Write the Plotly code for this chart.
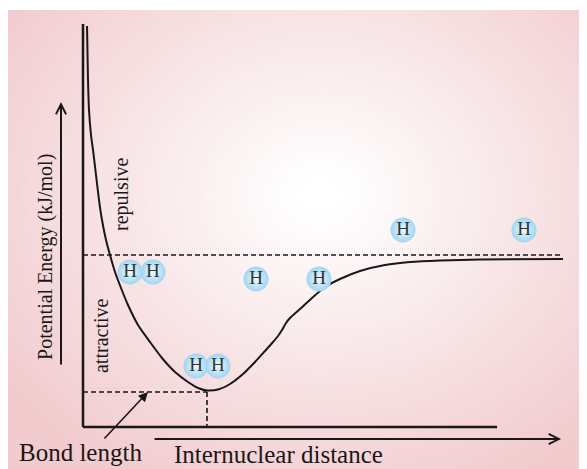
import zlib, struct, base64
import numpy as np
import plotly.graph_objects as go

# ---- data (distance in pm, energy in kJ/mol) ----
dist = [2.39, 2.98, 3.58, 4.77, 5.97, 7.76, 9.55, 11.34, 13.73, 16.11, 19.10, 22.68,
        26.85, 32.82, 39.98, 47.15, 54.90, 62.66, 68.63, 74.0, 80.56, 87.72, 95.48,
        102.64, 108.61, 113.39, 116.37, 118.76, 121.15, 123.53, 129.50, 136.66,
        144.42, 153.37, 165.31, 180.23, 195.15, 213.05, 236.92, 286.45]
energy = [728.8, 556.9, 461.5, 381.9, 334.2, 254.6, 175.0, 111.4, 47.7, 0.0, -54.1, -105.0,
          -159.1, -222.8, -276.9, -327.8, -372.4, -404.2, -423.3, -431.0, -428.1, -410.5,
          -378.7, -340.5, -305.5, -276.9, -257.8, -238.7, -216.4, -200.5, -171.9, -136.8,
          -101.8, -76.4, -50.9, -31.8, -22.3, -17.5, -14.3, -12.7]
bond_length = 74.0
bond_energy = -436.0
dissociation = 0.0
atom_x = [28.05, 41.77, 103.24, 67.44, 80.56, 140.84, 190.97, 263.18]
atom_y = [-54.1, -54.1, -76.4, -353.3, -353.3, -76.4, 79.6, 79.6]
atom_labels = ["H"] * 8

# axis frame (data units)
X0, XEND, DASH_END = 0.0, 247.1, 286.5
Y0, YTOP = -547.4, 735.2
XR = [-44.76, 305.55]
YR = [-706.51, 786.07]

FONT = "Liberation Serif, Times New Roman, serif"
INK = "#1a1718"

# ---- background radial gradient image (page pixel coordinates) ----
W, H = 147, 117
yy, xx = np.mgrid[0:H, 0:W]
px = 8 + (xx + 0.5) * 587 / W
py = 10 + (yy + 0.5) * 467 / H
t = np.sqrt(((px - 320) / 390) ** 2 + ((py - 195) / 330) ** 2)
t = np.clip((t - 0.06) / 0.94, 0, 1) ** 1.0
white = np.array([255, 255, 255.0])
pink = np.array([242, 203, 206.0])
img = (white[None, None, :] * (1 - t[..., None]) + pink[None, None, :] * t[..., None]).astype(np.uint8)

def to_png(a):
    h, w, _ = a.shape
    raw = b"".join(b"\x00" + a[i].tobytes() for i in range(h))
    def chunk(tag, data):
        c = struct.pack(">I", len(data)) + tag + data
        return c + struct.pack(">I", zlib.crc32(tag + data) & 0xffffffff)
    return (b"\x89PNG\r\n\x1a\n" + chunk(b"IHDR", struct.pack(">IIBBBBB", w, h, 8, 2, 0, 0, 0))
            + chunk(b"IDAT", zlib.compress(raw, 9)) + chunk(b"IEND", b""))

uri = "data:image/png;base64," + base64.b64encode(to_png(img)).decode()

fig = go.Figure()

fig.add_trace(go.Scatter(x=dist, y=energy, mode="lines",
                         line=dict(color=INK, width=2, shape="spline", smoothing=0.6),
                         hoverinfo="skip", showlegend=False))

fig.add_trace(go.Scatter(x=atom_x, y=atom_y, mode="markers+text", text=atom_labels,
                         textposition="middle center",
                         textfont=dict(family=FONT, size=19, color="#333333"),
                         marker=dict(size=25, color="#9fd6f0",
                                     gradient=dict(type="radial", color="#eef9fe"),
                                     line=dict(width=0)),
                         hoverinfo="skip", showlegend=False))

shapes = [
    dict(type="line", x0=X0, x1=X0, y0=Y0, y1=YTOP, line=dict(color=INK, width=2.5)),
    dict(type="line", x0=X0, x1=XEND, y0=Y0, y1=Y0, line=dict(color=INK, width=2.5)),
    dict(type="line", x0=X0, x1=DASH_END, y0=dissociation, y1=dissociation,
         line=dict(color=INK, width=1.6, dash="5px,3px")),
    dict(type="line", x0=X0, x1=bond_length, y0=bond_energy, y1=bond_energy,
         line=dict(color=INK, width=1.6, dash="5px,3px")),
    dict(type="line", x0=bond_length, x1=bond_length, y0=bond_energy, y1=Y0,
         line=dict(color=INK, width=1.6, dash="5px,3px")),
]

ann = [
    # axis arrows
    dict(x=-13.13, y=486.9, ax=-13.13, ay=-353.3, axref="x", ayref="y", text="",
         showarrow=True, arrowhead=5, arrowsize=1, arrowwidth=2, arrowcolor=INK, standoff=0),
    dict(x=285.3, y=-585.6, ax=41.8, ay=-585.6, axref="x", ayref="y", text="",
         showarrow=True, arrowhead=5, arrowsize=1, arrowwidth=2, arrowcolor=INK, standoff=0),
    # bond length pointer
    dict(x=38.79, y=-436.0, ax=11.94, ay=-588.8, axref="x", ayref="y", text="",
         showarrow=True, arrowhead=2, arrowsize=1.2, arrowwidth=1.6, arrowcolor=INK, standoff=0),
    # labels
    dict(x=-1.79, y=-627.0, text="Bond length", showarrow=False,
         font=dict(family=FONT, size=25, color=INK)),
    dict(x=116.4, y=-633.3, text="Internuclear distance", showarrow=False,
         font=dict(family=FONT, size=25, color=INK)),
    dict(x=-22.7, y=-6.4, text="Potential Energy (kJ/mol)", showarrow=False, textangle=-90,
         font=dict(family=FONT, size=20, color=INK)),
    dict(x=23.27, y=191.0, text="repulsive", showarrow=False, textangle=-90,
         font=dict(family=FONT, size=20, color=INK)),
    dict(x=10.74, y=-257.8, text="attractive", showarrow=False, textangle=-90,
         font=dict(family=FONT, size=20, color=INK)),
]

fig.update_layout(
    width=587, height=469, margin=dict(l=0, r=0, t=0, b=0),
    paper_bgcolor="white", plot_bgcolor="rgba(0,0,0,0)",
    xaxis=dict(visible=False, range=XR, fixedrange=True),
    yaxis=dict(visible=False, range=YR, fixedrange=True),
    shapes=shapes, annotations=ann,
    images=[dict(source=uri, xref="paper", yref="paper", x=0, y=1 - 2 / 469,
                 sizex=1, sizey=467 / 469, xanchor="left", yanchor="top",
                 sizing="stretch", layer="below")],
)

fig.write_html("out.html")
